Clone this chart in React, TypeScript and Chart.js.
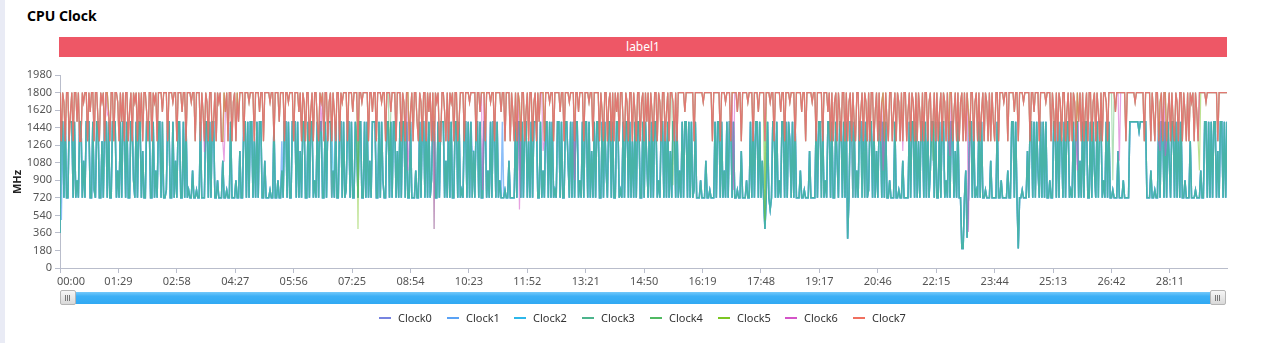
import React, { useEffect, useRef } from "react";
import { Chart, registerables } from "chart.js";

Chart.register(...registerables);

// ---------------- data ----------------
const SAMPLE_SECONDS = 2;

const timeTickLabels = [
  "00:00", "01:29", "02:58", "04:27", "05:56", "07:25", "08:54", "10:23", "11:52", "13:21",
  "14:50", "16:19", "17:48", "19:17", "20:46", "22:15", "23:44", "25:13", "26:42", "28:11",
];
const mhzTicks = [0, 180, 360, 540, 720, 900, 1080, 1260, 1440, 1620, 1800, 1980];
const timeAxisEnd = "29:38";

const seriesNames = ["Clock0", "Clock1", "Clock2", "Clock3", "Clock4", "Clock5", "Clock6", "Clock7"];
const seriesColors = ["#7784e0", "#5aa2f5", "#2db7ea", "#4cb48c", "#50b962", "#7cc623", "#d454c8", "#f07060"];

// big-core cluster clock (Clock4..Clock7 overlap), one value every 2 s
const bigCluster = [
  1800,1300,1800,1700,1300,1800,1800,1300,1600,1800,
  1300,1800,1800,1500,1800,1300,1300,1800,1700,1800,
  1800,1300,1800,1600,1800,1800,1300,1800,1800,1500,
  1300,1800,1700,1800,1300,1800,1800,1600,1300,1800,
  1800,1300,1800,1800,1700,1300,1800,1500,1800,1300,
  1800,1800,1300,1600,1800,1300,1800,1700,1800,1300,
  1800,1500,1800,1300,1800,1800,1600,1300,1800,1800,
  1300,1800,1700,1800,1300,1800,1800,1800,1600,1800,
  1800,1800,1300,1800,1800,1800,1700,1800,1800,1300,
  1800,1800,1800,1600,1800,1800,1300,1800,1800,1800,
  1700,1800,1800,1300,1800,1800,1800,1300,1800,1600,
  1300,1800,1700,1300,1800,1800,1300,1500,1800,1300,
  1800,1700,1800,1300,1300,1800,1600,1800,1300,1800,
  1800,1300,1700,1800,1300,1800,1500,1800,1800,1800,
  1300,1800,1800,1800,1700,1800,1800,1800,1300,1800,
  1800,1800,1600,1800,1800,1300,1800,1800,1800,1800,
  1700,1800,1800,1300,1800,1800,1800,1500,1800,1800,
  1800,1300,1800,1800,1700,1800,1800,1800,1300,1800,
  1800,1800,1600,1800,1300,1800,1700,1300,1800,1800,
  1300,1600,1800,1300,1800,1800,1500,1300,1800,1700,
  1800,1300,1800,1800,1300,1700,1800,1300,1800,1600,
  1300,1800,1800,1300,1800,1700,1800,1800,1800,1300,
  1800,1800,1800,1600,1800,1800,1800,1300,1800,1800,
  1700,1800,1800,1800,1800,1300,1800,1800,1600,1800,
  1800,1300,1800,1800,1800,1700,1800,1800,1300,1800,
  1800,1800,1600,1800,1800,1800,1300,1800,1800,1800,
  1300,1800,1700,1300,1800,1800,1300,1600,1800,1300,
  1800,1800,1500,1300,1800,1700,1300,1800,1800,1300,
  1800,1600,1800,1300,1800,1300,1800,1700,1800,1300,
  1300,1800,1800,1600,1300,1800,1300,1800,1700,1800,
  1300,1800,1800,1300,1500,1800,1800,1800,1300,1800,
  1800,1800,1700,1800,1800,1800,1800,1300,1800,1800,
  1600,1800,1800,1800,1300,1800,1800,1800,1700,1800,
  1800,1300,1800,1800,1800,1800,1600,1800,1800,1300,
  1800,1800,1800,1300,1800,1600,1300,1800,1300,1800,
  1700,1300,1800,1800,1300,1600,1800,1300,1800,1800,
  1300,1700,1800,1300,1800,1500,1800,1800,1800,1300,
  1800,1800,1800,1700,1800,1800,1300,1800,1800,1800,
  1800,1600,1800,1800,1300,1800,1800,1800,1700,1800,
  1800,1800,1300,1800,1800,1600,1800,1800,1800,1300,
  1800,1800,1800,1700,1800,1800,1300,1800,1800,1800,
  1800,1300,1800,1600,1300,1800,1800,1300,1700,1800,
  1300,1800,1300,1800,1600,1800,1300,1800,1800,1500,
  1300,1800,1700,1300,1800,1800,1300,1800,1600,1300,
  1800,1800,1300,1700,1800,1300,1800,1500,1800,1300,
  1800,1600,1300,1800,1800,1300,1800,1700,1300,1800,
  1800,1300,1600,1800,1300,1800,1800,1700,1300,1800,
  1300,1800,1800,1800,1800,1800,1600,1800,1800,1800,
  1800,1800,1800,1300,1800,1800,1800,1800,1800,1800,
  1700,1800,1800,1800,1800,1800,1800,1300,1800,1800,
  1800,1800,1800,1300,1800,1800,1800,1700,1800,1800,
  1800,1300,1800,1800,1800,1800,1600,1800,1800,1300,
  1800,1800,1800,1800,1700,1800,1800,1800,1300,1800,
  1800,1800,1600,1800,1800,1800,1800,1300,1800,1800,
  1800,1700,1800,1800,1300,1800,1800,1800,1800,1600,
  1800,1800,1300,1800,1800,1800,1700,1800,1800,1800,
  1300,1800,1800,1800,1800,1600,1800,1800,1300,1800,
  1800,1800,1800,1700,1800,1800,1300,1800,1800,1800,
  1800,1300,1800,1800,1800,1600,1800,1300,1800,1300,
  1700,1800,1300,1800,1600,1300,1800,1800,1300,1800,
  1300,1700,1800,1300,1800,1500,1300,1800,1800,1300,
  1600,1800,1300,1800,1700,1300,1800,1300,1800,1800,
  1300,1600,1800,1300,1800,1300,1700,1800,1300,1800,
  1500,1300,1800,1800,1300,1600,1800,1300,1800,1700,
  1300,1800,1300,1800,1800,1300,1600,1800,1300,1800,
  1700,1300,1800,1300,1800,1600,1300,1800,1300,1800,
  1800,1300,1700,1800,1300,1500,1800,1300,1800,1300,
  1600,1800,1300,1800,1700,1300,1800,1300,1800,1800,
  1300,1600,1800,1300,1800,1300,1700,1800,1300,1800,
  1300,1800,1600,1300,1800,1800,1300,1700,1800,1300,
  1800,1300,1600,1800,1300,1800,1700,1300,1800,1300,
  1800,1500,1300,1800,1800,1300,1800,1800,1800,1700,
  1800,1800,1300,1800,1800,1800,1800,1600,1800,1800,
  1300,1800,1800,1800,1700,1800,1800,1800,1800,1300,
  1800,1800,1600,1800,1800,1800,1300,1800,1800,1800,
  1800,1700,1800,1800,1800,1300,1800,1600,1300,1800,
  1300,1800,1700,1300,1800,1800,1300,1600,1800,1300,
  1800,1300,1800,1700,1300,1800,1500,1800,1300,1800,
  1300,1600,1800,1300,1800,1800,1300,1700,1800,1300,
  1800,1600,1300,1800,1300,1800,1800,1700,1300,1800,
  1800,1800,1800,1800,1600,1800,1800,1800,1800,1800,
  1800,1800,1300,1800,1800,1800,1800,1800,1800,1700,
  1800,1800,1800,1800,1800,1800,1300,1800,1800,1800,
  1800,1300,1800,1600,1300,1800,1800,1300,1700,1800,
  1300,1800,1800,1300,1600,1800,1300,1800,1500,1300,
  1800,1700,1300,1800,1800,1300,1800,1600,1300,1800,
  1300,1800,1700,1800,1300,1800,1600,1300,1800,1800,
  1800,1800,1800,1700,1800,1800,1800,1800,1800,1800,
  1800,1800,1300,1800,1800,1800,1800,1800,1800,1800,
];

// little-core cluster clock (Clock0..Clock3 overlap), one value every 2 s
const littleCluster = [
  360,1500,1500,720,1500,720,720,1500,1500,1500,
  720,1500,720,900,720,1500,1500,720,1100,720,
  1500,1500,1500,720,720,1500,800,720,1500,1500,
  720,720,1300,720,1500,1500,720,1500,720,720,
  1500,1500,1500,720,1000,720,1500,720,1500,1500,
  720,1500,720,720,1500,1500,900,720,1500,720,
  1500,1500,720,1200,720,720,1500,1500,1500,720,
  720,1500,720,1000,720,1500,1500,720,1500,720,
  720,800,1500,1500,720,720,1500,720,1100,720,
  1500,1500,720,720,1500,720,1500,720,800,720,
  720,1000,720,720,800,720,720,1500,720,720,
  720,1500,1500,720,1500,720,1500,1500,720,720,
  900,720,720,720,1100,720,720,800,720,720,
  1500,720,720,720,900,720,720,1200,720,720,
  1500,1500,720,1500,720,1500,1500,720,1300,720,
  1500,720,1500,1500,720,720,1100,720,720,720,
  800,720,720,1500,720,720,900,720,720,1000,
  720,1500,1500,720,1500,720,720,1500,1500,1500,
  720,1500,720,1200,720,1500,1500,720,720,1500,
  720,1500,1500,720,900,720,1500,720,1500,1500,
  720,720,1500,720,1500,1500,1500,720,1000,720,
  1500,720,720,1500,1500,720,1500,720,800,1500,
  1500,720,1500,720,720,1500,1300,720,1500,1500,
  720,720,1500,720,1500,720,1100,720,1500,1500,
  1500,720,720,1500,720,1500,900,720,720,1500,
  1500,720,1500,720,1500,1500,720,1200,720,1500,
  720,1500,1500,720,1500,720,720,1500,720,720,
  720,1000,720,720,1500,720,1500,1500,720,1500,
  720,1500,720,900,1500,1500,720,720,1500,720,
  1500,1500,1500,720,1100,720,1500,720,1500,720,
  720,1500,1500,720,1500,720,800,720,1500,1500,
  720,1500,720,1500,720,1200,720,1500,1500,720,
  1500,720,720,1500,1500,720,1000,720,1500,720,
  1500,1500,720,1500,720,900,720,720,720,800,
  720,720,1100,720,720,720,720,1500,720,1500,
  1500,720,1500,720,1500,1500,720,1300,720,1500,
  720,1500,1500,1500,720,720,1500,720,1000,720,
  1500,1500,720,1500,720,1500,720,800,720,1500,
  1500,720,1500,720,720,1500,1500,1100,720,1500,
  720,1500,720,1500,1500,720,900,720,1500,720,
  1500,1500,720,1500,720,1200,720,1500,720,1500,
  1500,720,720,1500,720,1500,1000,720,1500,1500,
  720,1500,720,720,1500,1500,720,800,720,1500,
  720,1500,1500,720,1500,720,1300,720,1500,720,
  1500,1500,720,720,1500,720,1500,1100,720,1500,
  720,1500,720,1500,1500,720,900,720,1500,1500,
  720,1500,720,1500,720,1200,720,1500,1500,720,
  1500,720,1000,720,1500,720,1500,1500,720,1500,
  720,1500,720,800,1500,720,720,720,900,720,
  720,720,1100,720,720,800,720,720,720,1500,
  720,1500,1500,720,1500,720,1000,720,1500,720,
  1500,1500,720,1500,720,720,800,720,720,1200,
  720,720,720,900,720,720,1500,720,1500,720,
  1500,1500,720,1500,720,1100,720,400,720,1500,
  720,600,720,1500,1500,720,1500,720,900,720,
  1500,1500,720,1500,720,1500,1300,720,1500,720,
  1500,720,720,720,1000,720,720,800,720,720,
  720,1200,720,720,720,720,1500,720,1500,1500,
  720,1500,720,900,720,1500,1500,720,1500,720,
  720,1500,1100,720,1500,1500,720,1500,720,1500,
  300,720,1500,1500,720,1500,720,1000,720,1500,
  1500,720,1500,720,1500,720,800,1500,1500,720,
  1500,720,1200,720,1500,1500,720,1500,720,1500,
  720,720,900,720,720,720,1500,720,720,800,
  720,720,1100,720,720,720,720,1500,720,1500,
  1500,720,1500,720,1300,720,1500,1500,720,1500,
  720,1500,720,1000,1500,1500,720,1500,720,720,
  1500,720,1500,1500,720,900,720,1500,720,1500,
  1500,720,1200,720,1500,720,720,200,200,720,
  1000,310,720,1500,1500,720,1500,720,800,720,
  1500,720,1500,720,720,800,720,720,720,1100,
  720,720,720,720,1500,720,720,900,720,720,
  720,720,1000,720,720,1500,1500,720,1500,720,
  200,720,720,800,720,720,720,1200,720,1500,
  1500,720,1500,720,1500,1000,720,1500,720,1500,
  720,1500,720,720,900,720,720,1500,1500,720,
  1500,720,1500,1300,720,1500,720,1500,1500,720,
  800,720,1500,720,1500,1500,720,1100,720,1500,
  720,1500,1500,720,720,1500,720,1500,1000,720,
  1500,720,1500,1500,720,900,720,1500,720,1500,
  720,720,800,720,720,720,1200,720,720,720,
  900,720,720,720,720,1500,1500,1500,1500,1500,
  1500,1500,1400,1500,1500,1500,1500,1500,720,720,
  720,1000,720,720,800,720,720,1500,720,1500,
  1500,720,1500,720,1500,1100,720,1500,1500,720,
  1500,720,1500,720,1500,720,720,900,720,720,
  720,1300,720,720,720,800,720,720,720,1000,
  720,720,1500,1500,720,1500,720,1500,720,1500,
  1500,720,1200,720,1500,1500,720,1500,720,1500,
];

// where a single core visibly leaves its cluster: [seconds, MHz]
const clock0Deviations = [[1222, 1100], [1580, 1500], [1582, 1500]];
const clock1Deviations = [
  [0, 500], [2, 500], [156, 1100], [224, 1500], [338, 1300], [476, 1500], [498, 1500],
  [628, 1200], [674, 1500], [742, 1200], [1160, 1500], [1210, 1400], [1226, 1200],
  [1374, 200], [1486, 800], [1516, 1500],
];
const clock2Deviations = [[414, 1400], [1208, 1300]];
const clock3Deviations: number[][] = [];
const clock4Deviations = [[502, 1200], [570, 400], [934, 850], [1074, 490], [1330, 1100], [1604, 900]];
const clock5Deviations = [[454, 400], [1074, 490], [1736, 1000]];
const clock6Deviations = [
  [72, 1570], [220, 1190], [250, 1090], [270, 1700], [398, 1400], [530, 1000], [570, 400],
  [644, 800], [700, 600], [736, 1200], [784, 900], [1026, 800], [1254, 1000], [1284, 1200],
  [1356, 1150], [1384, 370], [1550, 1000], [1614, 1100], [1676, 1200], [1684, 1150],
];
const clock7Deviations: number[][] = [];

// ---------------- helpers ----------------
const toSeconds = (label: string) => {
  const [m, s] = label.split(":").map(Number);
  return m * 60 + s;
};

function buildSeries(base: number[], deviations: number[][]) {
  const dev = new Map<number, number>(deviations.map((d) => [d[0], d[1]] as [number, number]));
  return base.map((v, i) => {
    const t = i * SAMPLE_SECONDS;
    return { x: t, y: dev.has(t) ? (dev.get(t) as number) : v };
  });
}

function rgba(hex: string, a: number) {
  const n = parseInt(hex.slice(1), 16);
  return `rgba(${(n >> 16) & 255},${(n >> 8) & 255},${n & 255},${a})`;
}

const FONT = '"Noto Sans", "Open Sans", sans-serif';
const AXIS_COLOR = "#b9bdcb";
const LABEL_COLOR = "#555";
const legendTextLeft = [398, 466, 533, 601, 669, 737, 804, 872];
// line look per series
const lineAlpha = [0.7, 0.7, 0.7, 0.7, 0.45, 0.5, 0.55, 0.72];
const lineWidth = [1.5, 1.5, 1.5, 1.5, 1.2, 1.2, 1.2, 1.3];

export default function App() {
  const canvasRef = useRef<HTMLCanvasElement>(null);

  useEffect(() => {
    const bases = [littleCluster, littleCluster, littleCluster, littleCluster, bigCluster, bigCluster, bigCluster, bigCluster];
    const devs = [clock0Deviations, clock1Deviations, clock2Deviations, clock3Deviations, clock4Deviations, clock5Deviations, clock6Deviations, clock7Deviations];
    const datasets = seriesNames.map((name, i) => ({
      label: name,
      data: buildSeries(bases[i], devs[i]),
      borderColor: rgba(seriesColors[i], lineAlpha[i]),
      backgroundColor: seriesColors[i],
      borderWidth: lineWidth[i],
      pointRadius: 0,
      tension: 0,
      fill: false,
      order: seriesNames.length - 1 - i,
    }));

    const chart = new Chart(canvasRef.current as HTMLCanvasElement, {
      type: "line",
      data: { datasets: datasets as any },
      options: {
        animation: false,
        responsive: false,
        events: [],
        parsing: false,
        normalized: true,
        layout: { padding: { top: 75, right: 53, left: 0, bottom: 0 } },
        plugins: {
          legend: { display: false },
          title: { display: false },
          tooltip: { enabled: false },
        },
        scales: {
          x: {
            type: "linear",
            min: 0,
            max: toSeconds(timeAxisEnd),
            afterBuildTicks: (scale: any) => {
              scale.ticks = timeTickLabels.map((l) => ({ value: toSeconds(l) }));
            },
            afterFit: (scale: any) => {
              scale.height = 75;
            },
            ticks: {
              autoSkip: false,
              maxRotation: 0,
              padding: 2,
              color: LABEL_COLOR,
              font: { family: FONT, size: 11 },
              callback: (_v: any, i: number) =>
                i === 0 ? "\u2003\u2003" + timeTickLabels[0] : timeTickLabels[i],
            },
            grid: { drawOnChartArea: false, drawTicks: true, tickLength: 5, color: AXIS_COLOR },
            border: { display: true, color: AXIS_COLOR, width: 1 },
          },
          y: {
            type: "linear",
            min: mhzTicks[0],
            max: mhzTicks[mhzTicks.length - 1],
            afterBuildTicks: (scale: any) => {
              scale.ticks = mhzTicks.map((v) => ({ value: v }));
            },
            afterFit: (scale: any) => {
              scale.width = 60;
            },
            ticks: {
              padding: 3,
              color: LABEL_COLOR,
              font: { family: FONT, size: 11 },
              callback: (v: any) => String(v),
            },
            grid: { drawOnChartArea: false, drawTicks: true, tickLength: 5, color: AXIS_COLOR },
            border: { display: true, color: AXIS_COLOR, width: 1 },
          },
        },
      } as any,
    });
    return () => chart.destroy();
  }, []);

  const handle = (left: number) => (
    <div
      style={{
        position: "absolute",
        left,
        top: 290,
        width: 16,
        height: 15,
        boxSizing: "border-box",
        border: "1px solid #b5b5b5",
        borderRadius: 2,
        background: "linear-gradient(#f6f6f6, #d9d9d9)",
      }}
    >
      {[5, 7, 9].map((x) => (
        <div key={x} style={{ position: "absolute", left: x - 1, top: 4, width: 1, height: 6, background: "#777" }} />
      ))}
    </div>
  );

  return (
    <div
      style={{
        position: "fixed",
        left: 0,
        top: 0,
        width: 1280,
        height: 343,
        overflow: "hidden",
        background: "#fff",
        fontFamily: FONT,
      }}
    >
      <div style={{ position: "absolute", left: 0, top: 0, width: 5, height: 343, background: "#e9ebf5" }} />
      <div
        style={{
          position: "absolute",
          left: 27,
          top: 6,
          fontSize: 14,
          fontWeight: 700,
          lineHeight: "20px",
          color: "#000",
          whiteSpace: "nowrap",
        }}
      >
        CPU Clock
      </div>
      <div
        style={{
          position: "absolute",
          left: 59,
          top: 37,
          width: 1168,
          height: 20,
          background: "#ee5766",
          color: "#fff",
          fontSize: 12,
          lineHeight: "20px",
          textAlign: "center",
        }}
      >
        label1
      </div>
      <canvas
        ref={canvasRef}
        width={1280}
        height={343}
        style={{ position: "absolute", left: 0, top: 0, width: 1280, height: 343 }}
      />
      <div
        style={{
          position: "absolute",
          left: 17 - 20,
          top: 182 - 8,
          width: 40,
          height: 16,
          lineHeight: "16px",
          transform: "rotate(-90deg)",
          textAlign: "center",
          fontSize: 11,
          fontWeight: 700,
          color: "#222",
        }}
      >
        MHz
      </div>
      <div
        style={{
          position: "absolute",
          left: 62,
          top: 292,
          width: 1162,
          height: 12,
          background: "linear-gradient(#74c9fb 0%, #3db0f6 35%, #30a9f3 100%)",
        }}
      />
      {handle(60)}
      {handle(1210)}
      {seriesNames.map((name, i) => (
        <React.Fragment key={name}>
          <div
            style={{
              position: "absolute",
              left: legendTextLeft[i] - 19,
              top: 317,
              width: 12,
              height: 2,
              background: seriesColors[i],
            }}
          />
          <div
            style={{
              position: "absolute",
              left: legendTextLeft[i],
              top: 310,
              fontSize: 11,
              lineHeight: "16px",
              color: "#333",
              whiteSpace: "nowrap",
            }}
          >
            {name}
          </div>
        </React.Fragment>
      ))}
    </div>
  );
}
